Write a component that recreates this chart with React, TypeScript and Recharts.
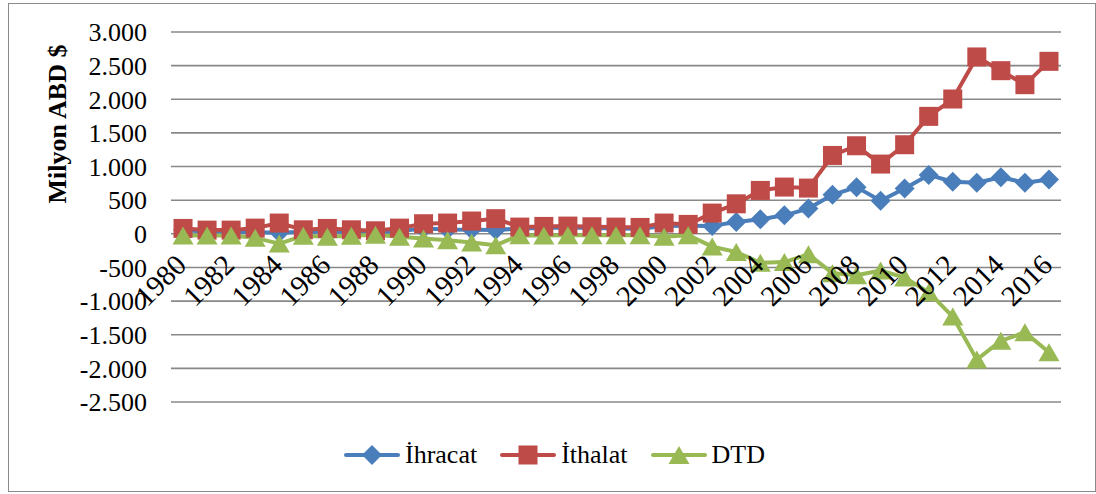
import { LineChart, Line, XAxis, YAxis, CartesianGrid, Legend } from "recharts";

const years = [
  "1980", "1981", "1982", "1983", "1984", "1985", "1986", "1987", "1988", "1989",
  "1990", "1991", "1992", "1993", "1994", "1995", "1996", "1997", "1998", "1999",
  "2000", "2001", "2002", "2003", "2004", "2005", "2006", "2007", "2008", "2009",
  "2010", "2011", "2012", "2013", "2014", "2015", "2016",
];

const ihracat = [
  55, 30, 30, 25, 15, 30, 35, 30, 30, 40,
  80, 65, 60, 55, 80, 85, 95, 85, 78, 75,
  115, 120, 118, 176, 215, 275, 375, 580, 694, 492,
  674, 876, 774, 760, 840, 760, 808,
];

const ithalat = [
  80, 55, 55, 85, 160, 60, 80, 60, 45, 85,
  150, 160, 190, 225, 100, 110, 115, 105, 100, 95,
  160, 140, 308, 446, 645, 695, 680, 1165, 1309, 1037,
  1324, 1746, 2004, 2629, 2425, 2217, 2564,
];

const dtd = [
  -25, -25, -25, -60, -145, -30, -45, -30, -15, -45,
  -70, -95, -130, -170, -20, -25, -20, -20, -22, -20,
  -45, -20, -190, -270, -430, -420, -305, -585, -615, -545,
  -650, -870, -1230, -1870, -1590, -1465, -1760,
];

const yTicks = [-2500, -2000, -1500, -1000, -500, 0, 500, 1000, 1500, 2000, 2500, 3000];

const data = years.map((year, i) => ({
  year,
  ihracat: ihracat[i],
  ithalat: ithalat[i],
  dtd: dtd[i],
}));

const W = 1096;
const H = 494;
const X_AXIS_H = 30;
const MARGIN = { top: 32, right: 35, bottom: 92 - X_AXIS_H, left: 0 };
const Y_AXIS_W = 171;
const Y_MIN = -2500;
const Y_MAX = 3000;
const PLOT_W = W - MARGIN.left - MARGIN.right - Y_AXIS_W;
const PLOT_H = H - MARGIN.top - MARGIN.bottom - X_AXIS_H;
const ZERO_Y = MARGIN.top + (PLOT_H * Y_MAX) / (Y_MAX - Y_MIN);
// excel puts each year in the middle of its slot: half a slot of padding each side
const HALF_SLOT = PLOT_W / years.length / 2;

const FONT = '"Liberation Serif", "Times New Roman", Times, serif';
const BLUE = "#4a7ebb";
const RED = "#be4b48";
const GREEN = "#98b954";

const CSS = `
.tr-chart, .tr-chart svg, .tr-chart text, .tr-chart tspan { font-family: ${FONT} !important; }
`;

function fmt(v: number): string {
  const s = Math.abs(v).toString().replace(/\B(?=(\d{3})+(?!\d))/g, ".");
  return (v < 0 ? "-" : "") + s;
}

function Diamond({ cx, cy, fill }: any) {
  return <polygon points={`${cx},${cy - 10} ${cx + 10},${cy} ${cx},${cy + 10} ${cx - 10},${cy}`} fill={fill} />;
}

function Square({ cx, cy, fill }: any) {
  return <rect x={cx - 9.5} y={cy - 9.5} width={19} height={19} fill={fill} />;
}

function Triangle({ cx, cy, fill }: any) {
  return <polygon points={`${cx},${cy - 9} ${cx + 10.5},${cy + 9} ${cx - 10.5},${cy + 9}`} fill={fill} />;
}

const SERIES = [
  { key: "ihracat", name: "İhracat", color: BLUE, Marker: Diamond },
  { key: "ithalat", name: "İthalat", color: RED, Marker: Square },
  { key: "dtd", name: "DTD", color: GREEN, Marker: Triangle },
];

function YearTick({ x, payload }: any) {
  const ax = x + 5;
  const ay = ZERO_Y + 33;
  return (
    <text
      x={ax}
      y={ay}
      transform={`rotate(-45 ${ax} ${ay})`}
      textAnchor="end"
      fontSize={29}
      fill="#000"
    >
      {payload.value}
    </text>
  );
}

function ValueTick({ x, y, payload }: any) {
  return (
    <text x={x} y={y} dy="0.355em" textAnchor="end" fontSize={26} fill="#000">
      {fmt(payload.value)}
    </text>
  );
}

function LegendContent() {
  return (
    <div style={{ display: "flex", alignItems: "center", marginLeft: 343, gap: 22 }}>
      {SERIES.map((s) => (
        <div key={s.key} style={{ display: "flex", alignItems: "center" }}>
          <svg width={58} height={24}>
            <line x1={3} y1={12} x2={55} y2={12} stroke={s.color} strokeWidth={4} strokeLinecap="round" />
            <s.Marker cx={29} cy={12} fill={s.color} />
          </svg>
          <span style={{ fontSize: 26, color: "#000", marginLeft: 4, lineHeight: "30px" }}>{s.name}</span>
        </div>
      ))}
    </div>
  );
}

export default function App() {
  return (
    <div
      className="tr-chart"
      style={{ position: "absolute", left: 0, top: 0, width: W, height: H, background: "#fff" }}
    >
      <style>{CSS}</style>
      <div
        style={{
          position: "absolute",
          left: 8,
          top: 3,
          width: 1086,
          height: 487,
          border: "1px solid #8a8a8a",
        }}
      />
      <div style={{ position: "absolute", left: 0, top: 0 }}>
        <LineChart width={W} height={H} data={data} margin={MARGIN}>
          <CartesianGrid horizontal vertical={false} stroke="#888" strokeWidth={1.6} />
          <XAxis
            dataKey="year"
            interval={1}
            tickLine={false}
            axisLine={false}
            height={X_AXIS_H}
            padding={{ left: HALF_SLOT, right: HALF_SLOT }}
            tick={<YearTick />}
          />
          <YAxis
            type="number"
            domain={[Y_MIN, Y_MAX]}
            ticks={yTicks}
            interval={0}
            width={Y_AXIS_W}
            tickLine={false}
            axisLine={false}
            tickSize={0}
            tickMargin={24}
            tick={<ValueTick />}
            label={{
              value: "Milyon ABD $",
              content: () => (
                <text
                  x={66}
                  y={124}
                  transform="rotate(-90 66 124)"
                  textAnchor="middle"
                  fontSize={26}
                  fontWeight="bold"
                  fill="#000"
                >
                  Milyon ABD $
                </text>
              ),
            }}
          />
          <Legend
            layout="horizontal"
            verticalAlign="middle"
            align="center"
            content={<LegendContent />}
            wrapperStyle={{ top: 440, left: 0, width: W }}
          />
          {SERIES.map((s) => (
            <Line
              key={s.key}
              type="linear"
              dataKey={s.key}
              name={s.name}
              stroke={s.color}
              strokeWidth={4}
              strokeLinejoin="round"
              isAnimationActive={false}
              activeDot={false}
              dot={(p: any) => <s.Marker key={`${s.key}-${p.index}`} cx={p.cx} cy={p.cy} fill={s.color} />}
            />
          ))}
        </LineChart>
      </div>
    </div>
  );
}
